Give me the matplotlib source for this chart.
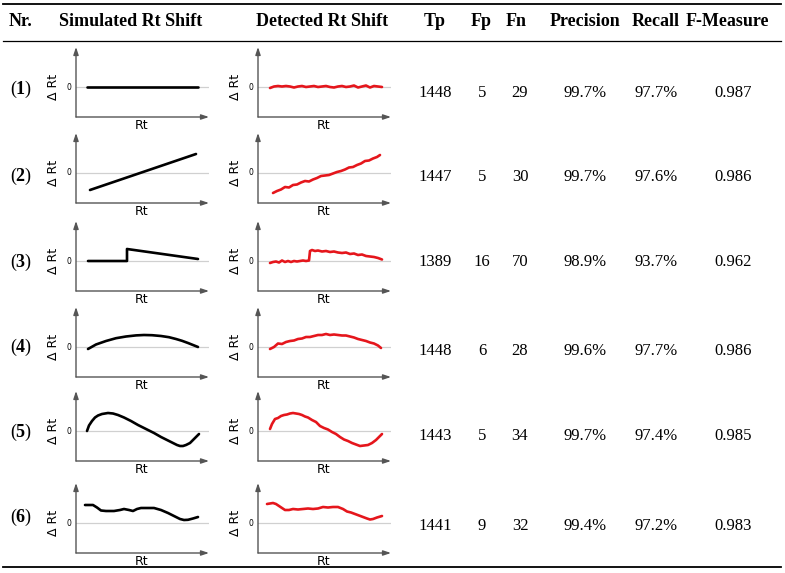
import os

os.environ.setdefault("MPLBACKEND", "Agg")

import matplotlib.pyplot as plt
from matplotlib.lines import Line2D

plt.rcParams.update(
    {
        "font.family": "Liberation Serif",
        "mathtext.fontset": "custom",
        "mathtext.bf": "Liberation Serif:bold",
        "mathtext.rm": "Liberation Serif",
    }
)

W, H = 785, 573

# table data
ROW_IDS = ["1", "2", "3", "4", "5", "6"]
TP = [1448, 1447, 1389, 1448, 1443, 1441]
FP = [5, 5, 16, 6, 5, 9]
FN = [29, 30, 70, 28, 34, 32]
PRECISION = ["99.7%", "99.7%", "98.9%", "99.6%", "99.7%", "99.4%"]
RECALL = ["97.7%", "97.6%", "93.7%", "97.7%", "97.4%", "97.2%"]
F_MEASURE = ["0.987", "0.986", "0.962", "0.986", "0.985", "0.983"]
HEADERS = ["Nr.", "Simulated Rt Shift", "Detected Rt Shift", "Tp", "Fp", "Fn",
           "Precision", "Recall", "F-Measure"]

# simulated shifts (arbitrary units, 0 = no shift)
SIM1_X = [11, 122]
SIM1_Y = [0, 0]
SIM2_X = [14, 120]
SIM2_Y = [-17, 19]
SIM3_X = [12, 51, 51, 122]
SIM3_Y = [0, 0, 12, 2]
SIM4_X = [12, 20, 30, 40, 50, 60, 68, 76, 85, 93, 100, 106, 112, 117, 122]
SIM4_Y = [-2, 2.5, 6, 8.8, 10.5, 11.6, 12, 11.8, 11, 9.8, 8, 6.2, 4, 2, 0]
SIM5_X = [11, 13, 16, 19, 22, 26, 32, 37, 42, 48, 55, 62, 70, 78, 85, 91, 97,
          101, 104, 107, 110, 114, 117, 120, 123]
SIM5_Y = [0, 5.5, 10, 13.5, 15.5, 17, 18, 17.5, 16, 13.5, 10, 6, 2, -2, -6, -9,
          -12, -14, -15, -15, -14, -12, -9, -6, -3]
SIM6_X = [9, 13, 17, 21, 25, 30, 38, 44, 48, 53, 57, 61, 65, 72, 78, 85, 92, 98,
          104, 108, 112, 117, 122]
SIM6_Y = [18, 18, 18, 15.5, 12.5, 12, 12, 13, 14, 13, 12, 14, 15, 15, 15, 13, 10,
          7, 4, 3, 3.2, 4.5, 6]

# detected shifts
DET1_X = [12, 16, 20, 24, 28, 32, 36, 40, 44, 48, 52, 56, 60, 64, 68, 72, 76, 80,
          84, 88, 92, 96, 100, 104, 108, 112, 116, 120, 124]
DET1_Y = [-1, 0.5, 1, 0.5, 1, 0.5, -0.5, 0.5, 1, 0, 0.5, 1, 0, 0.5, 1, 0, -0.5,
          0.5, 1, 0, 0.5, 1.5, -0.5, 0.5, 1.5, -0.5, 1, 0.5, 0]
DET2_X = [15, 19, 23, 27, 31, 35, 39, 43, 47, 51, 55, 59, 63, 67, 71, 75, 79, 83,
          87, 91, 95, 99, 103, 107, 111, 115, 119, 122]
DET2_Y = [-20, -18, -16.5, -14, -14.5, -12, -11.5, -9.5, -8, -8.5, -6.5, -5, -3,
          -2.5, -2, -0.5, 1, 2, 3.5, 5.5, 6, 8, 9.5, 12, 12.5, 14.5, 16, 18]
DET3_X = [12, 15, 18, 21, 24, 27, 30, 33, 36, 39, 42, 45, 48, 51, 52, 54, 57, 60,
          64, 68, 72, 76, 80, 84, 88, 92, 96, 100, 104, 108, 112, 116, 120, 124]
DET3_Y = [-2, -1, -0.5, -1.5, 0.5, -1, 0, -1, 0, -0.5, 0, 0.5, 0, 0.5, 10, 11,
          10, 10.5, 9.5, 10, 9, 9.5, 8.5, 8, 8.5, 7, 7.5, 6, 6.5, 5, 4.5, 4, 3, 1.5]
DET4_X = [12, 16, 20, 24, 28, 32, 36, 40, 44, 48, 52, 56, 60, 64, 68, 72, 76, 80,
          84, 88, 92, 96, 100, 104, 108, 112, 116, 120, 123]
DET4_Y = [-2, 0, 3.5, 3, 5, 6, 6.5, 8, 8.5, 10, 10, 11, 12, 12, 13, 12, 12.5, 12,
          11.5, 11.5, 10.5, 9.5, 8, 7, 6, 4.5, 3.5, 1.5, -1]
DET5_X = [12, 14, 17, 20, 23, 26, 29, 32, 35, 38, 41, 44, 47, 50, 54, 58, 62, 66,
          70, 74, 78, 82, 86, 90, 94, 98, 102, 106, 110, 114, 118, 121, 124]
DET5_Y = [2, 7, 12, 13, 15, 16, 16.5, 17.5, 18, 17.5, 17, 16, 14.5, 13.5, 11, 9,
          5, 3, 1.5, -1, -3, -6, -8.5, -10, -12, -13.5, -15, -14.5, -14, -12, -9,
          -6, -3]
DET6_X = [9, 12, 15, 18, 21, 24, 27, 31, 35, 40, 45, 50, 55, 60, 65, 70, 75, 80,
          85, 89, 93, 97, 101, 105, 109, 112, 115, 119, 124]
DET6_Y = [19, 19.5, 20, 19, 17, 15, 13, 13, 14, 13.5, 14, 14.5, 14, 14.5, 16,
          15.5, 16, 16, 14, 11.5, 10.5, 9, 7.5, 6, 4.5, 3.5, 4, 5.5, 7]

SIM = [(SIM1_X, SIM1_Y), (SIM2_X, SIM2_Y), (SIM3_X, SIM3_Y),
       (SIM4_X, SIM4_Y), (SIM5_X, SIM5_Y), (SIM6_X, SIM6_Y)]
DET = [(DET1_X, DET1_Y), (DET2_X, DET2_Y), (DET3_X, DET3_Y),
       (DET4_X, DET4_Y), (DET5_X, DET5_Y), (DET6_X, DET6_Y)]

# layout (pixels)
ZERO_Y = [87, 173, 261, 347, 431, 523]
TEXT_Y = [93, 177, 262, 351, 436, 526]
NR_Y = [89, 176, 262, 347, 432, 517]
HEADER_X = [21, 131, 322, 435, 481, 516, 585, 656, 727]
VALUE_X = [435, 482, 520, 585, 656, 733]


def fx(px):
    return px / W


def fy(py):
    return 1 - py / H


def mini_plot(fig, left_px, zero_px, xs, ys, color):
    ax = fig.add_axes([fx(left_px), fy(zero_px + 30), 133 / W, 70 / H])
    ax.set_xlim(0, 133)
    ax.set_ylim(-30, 40)
    ax.axis("off")
    ax.axhline(0, color="#d0d0d0", lw=0.9, zorder=1)
    arrow = dict(arrowstyle="-|>,head_length=0.45,head_width=0.15", color="#555555",
                 lw=1.0, shrinkA=0, shrinkB=0)
    ax.annotate("", xy=(1, 0), xytext=(0, 0), xycoords="axes fraction",
                arrowprops=arrow)
    ax.annotate("", xy=(0, 1), xytext=(0, 0), xycoords="axes fraction",
                arrowprops=arrow)
    ax.plot(xs, ys, color=color, lw=1.9, solid_capstyle="round", zorder=3)
    ax.text(0.49, -0.03, "Rt", transform=ax.transAxes, ha="center", va="top",
            fontsize=9, family="DejaVu Sans")
    ax.text(-0.17, 30 / 70, "\u0394 Rt", transform=ax.transAxes, ha="center",
            va="center", rotation=90, fontsize=9, family="DejaVu Sans")
    ax.text(-5, 0, "0", ha="right", va="center", fontsize=5.5, family="DejaVu Sans")


fig = plt.figure(figsize=(W / 100, H / 100), dpi=100)

for y, lw in [(4, 1.3), (41, 0.9), (567, 1.3)]:
    fig.add_artist(Line2D([fx(3), fx(781)], [fy(y), fy(y)], color="black", lw=lw))

for x, label in zip(HEADER_X, HEADERS):
    fig.text(fx(x), fy(22), label, ha="center", va="center", fontsize=13,
             fontweight="bold")

for i in range(len(ROW_IDS)):
    fig.text(fx(21), fy(NR_Y[i]), r"($\mathbf{" + ROW_IDS[i] + "}$)", ha="center",
             va="center", fontsize=13)
    mini_plot(fig, 76, ZERO_Y[i], SIM[i][0], SIM[i][1], "black")
    mini_plot(fig, 258, ZERO_Y[i], DET[i][0], DET[i][1], "#e5161c")
    values = [str(TP[i]), str(FP[i]), str(FN[i]), PRECISION[i], RECALL[i],
              F_MEASURE[i]]
    for x, v in zip(VALUE_X, values):
        fig.text(fx(x), fy(TEXT_Y[i]), v, ha="center", va="center", fontsize=12)

fig.savefig("out.png", dpi=100)
